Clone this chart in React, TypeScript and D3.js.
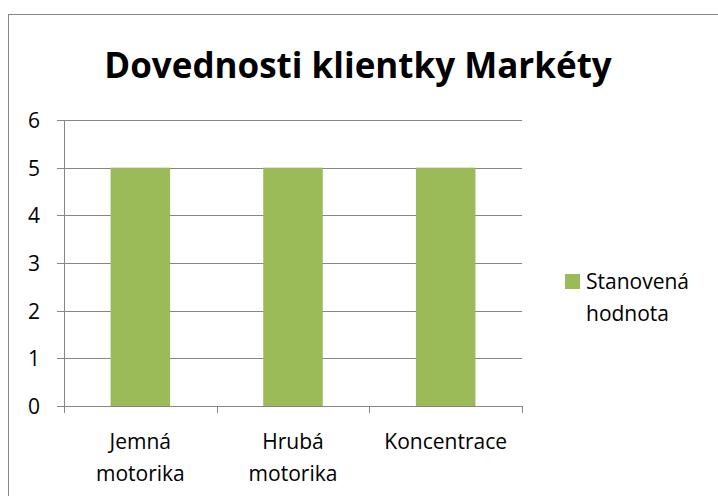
import React from "react";
import * as d3 from "d3";

const categories = ["Jemná motorika", "Hrubá motorika", "Koncentrace"];
const categoryLines = [["Jemná", "motorika"], ["Hrubá", "motorika"], ["Koncentrace"]];
const values = [5, 5, 5];
const seriesName = ["Stanovená", "hodnota"];
const yTicks = [0, 1, 2, 3, 4, 5, 6];
const title = "Dovednosti klientky Markéty";

const W = 718, H = 496;
const FONT = "'Open Sans', 'Noto Sans', sans-serif";

export default function App() {
  const x0 = 64, x1 = 522, yTop = 120, yBot = 406;
  const x = d3.scaleBand<string>().domain(categories).range([x0, x1]).paddingInner(0.61).paddingOuter(0.305);
  const y = d3.scaleLinear().domain([0, 6]).range([yBot, yTop]);
  const step = (x1 - x0) / categories.length;
  const green = "#9bbb59";
  const grid = "#868686";
  return (
    <svg width={W} height={H} style={{ position: "fixed", left: 0, top: 0 }}>
      <rect x={0} y={0} width={W} height={H} fill="#fff" />
      <rect x={8.5} y={14.5} width={W} height={H} fill="#fff" stroke="#888" strokeWidth={1} />
      <text x={358} y={78} textAnchor="middle" fontFamily={FONT} fontWeight="bold" fontSize={35} fill="#000">{title}</text>
      {yTicks.map(t => (
        <g key={t}>
          <line x1={57} x2={x1} y1={Math.round(y(t)) + 0.5} y2={Math.round(y(t)) + 0.5} stroke={grid} strokeWidth={1} />
          <text x={40} y={y(t) + 8} textAnchor="end" fontFamily={FONT} fontSize={21} fill="#000">{t}</text>
        </g>
      ))}
      <line x1={x0 + 0.5} x2={x0 + 0.5} y1={yTop} y2={yBot} stroke={grid} />
      {d3.range(categories.length + 1).map(i => (
        <line key={i} x1={Math.round(x0 + i * step) + 0.5} x2={Math.round(x0 + i * step) + 0.5} y1={yBot} y2={yBot + 7} stroke={grid} />
      ))}
      {categories.map((c, i) => (
        <rect key={c} x={x(c)} y={y(values[i])} width={x.bandwidth()} height={yBot - y(values[i])} fill={green} />
      ))}
      {categories.map((c, i) => (
        <text key={c} textAnchor="middle" fontFamily={FONT} fontSize={21} fill="#000">
          {categoryLines[i].map((l, j) => (
            <tspan key={j} x={(x(c) as number) + x.bandwidth() / 2} y={449 + j * 32}>{l}</tspan>
          ))}
        </text>
      ))}
      <rect x={565} y={274} width={15} height={15} fill={green} />
      {seriesName.map((l, j) => (
        <text key={j} x={586} y={289 + j * 32} fontFamily={FONT} fontSize={21} fill="#000">{l}</text>
      ))}
    </svg>
  );
}
